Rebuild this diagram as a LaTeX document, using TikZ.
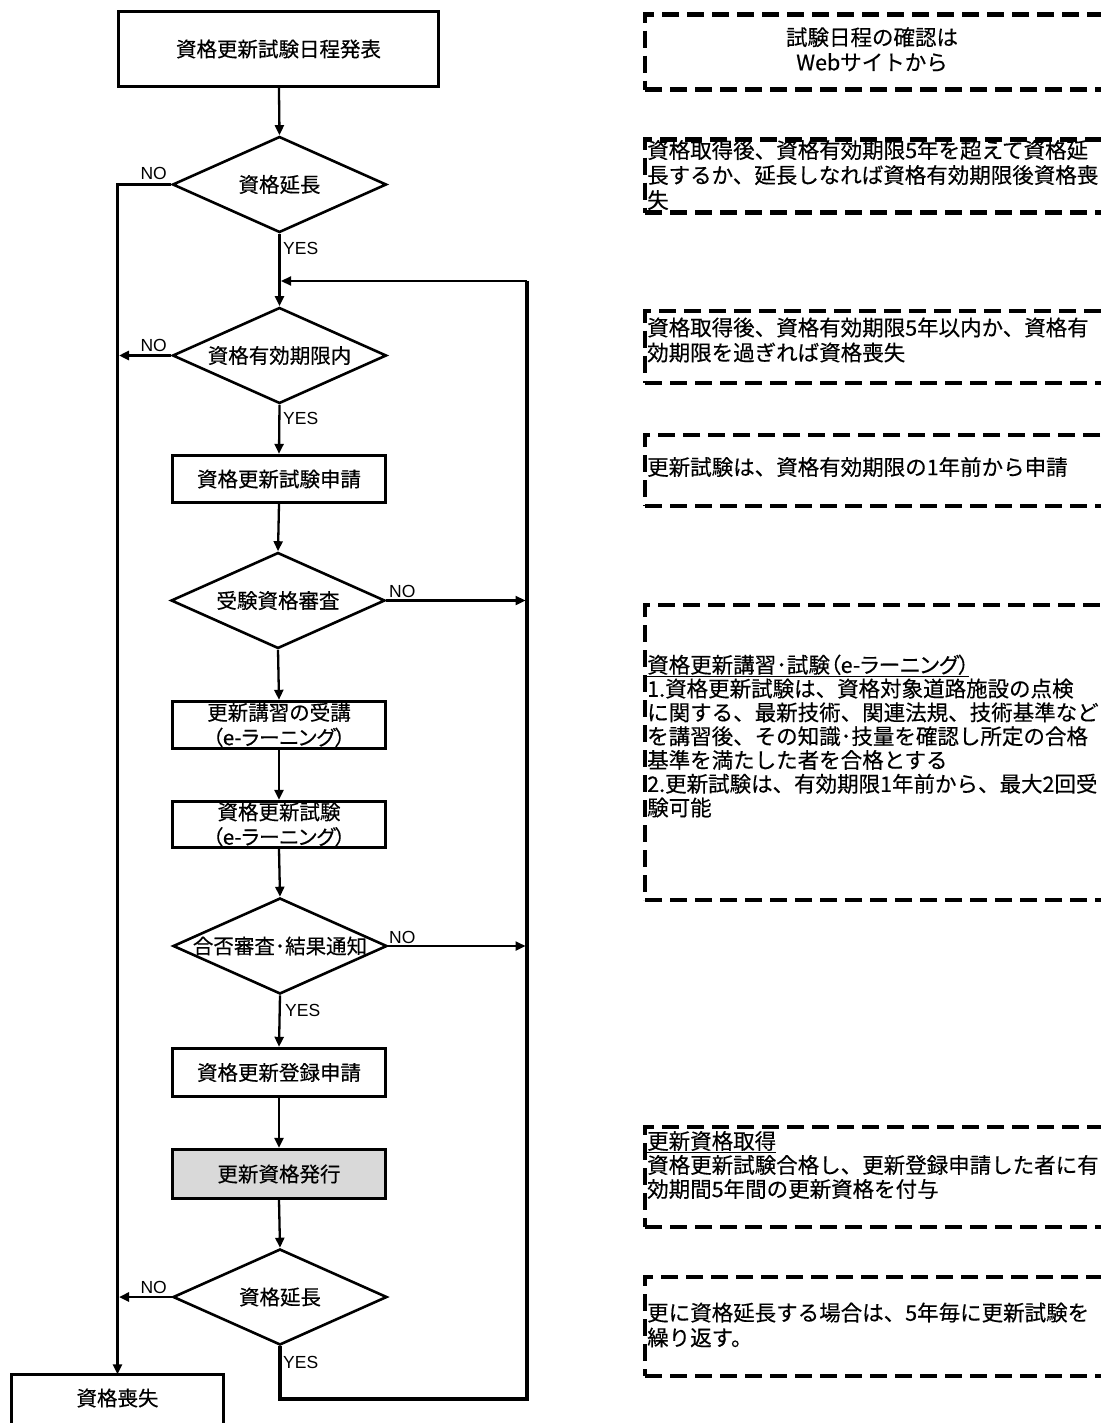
\documentclass[tikz,border=0pt]{standalone}
\usepackage{fontspec}
\setmainfont{Noto Sans CJK JP}[FakeBold=0.35]
\newfontfamily\paltfont{Noto Sans CJK JP}[RawFeature=+palt,FakeBold=0.35]
\newfontfamily\latinfont{Liberation Sans}
\usetikzlibrary{shapes.geometric,arrows.meta,calc}
\definecolor{fillgray}{HTML}{D9D9D9}
\newcommand{\elearn}{{\paltfont （e-ラーニング）}}
\begin{document}
\begin{tikzpicture}[x=1pt,y=-1pt,
  proc/.style={draw, line width=3.4pt, minimum width=213pt, minimum height=47pt, inner sep=0pt,
    font=\fontsize{20.5}{25}\selectfont, align=center},
  dec/.style={draw, diamond, line width=2.6pt, minimum width=214pt, minimum height=96pt, inner sep=0pt,
    font=\fontsize{20.5}{25}\selectfont},
  conn/.style={line width=2.3pt, -{Triangle[length=10pt,width=9pt]}},
  trunk/.style={line width=3.4pt},
  yn/.style={font=\latinfont\fontsize{17.5}{20}\selectfont, inner sep=0pt},
  note/.style={draw, dash pattern=on 17pt off 8pt, line width=4.2pt, anchor=north west, inner sep=0pt, minimum width=467pt},
  notetext/.style={font=\fontsize{21.5}{25}\selectfont, align=left, anchor=west, inner sep=0pt},
]
\useasboundingbox (0,0) rectangle (1100,1423);

% ---------- flowchart nodes ----------
\node[proc, minimum width=320pt, minimum height=75pt] (start) at (278.5,49) {資格更新試験日程発表};
\node[dec] (d1) at (279.5,184.5) {\makebox[0pt]{資格延長}};
\node[dec] (d2) at (279.5,355.5) {\makebox[0pt]{資格有効期限内}};
\node[proc] (p1) at (279,479) {資格更新試験申請};
\node[dec] (d3) at (278,600.5) {\makebox[0pt]{受験資格審査}};
\node[proc] (p2) at (279,725) {更新講習の受講\\\elearn};
\node[proc, minimum height=46pt] (p3) at (279,824.5) {資格更新試験\\\elearn};
\node[dec] (d4) at (280,946) {\makebox[0pt]{合否審査･結果通知}};
\node[proc, minimum height=48pt] (p4) at (279,1072.5) {資格更新登録申請};
\node[proc, fill=fillgray, minimum height=49pt] (p5) at (279,1174) {更新資格発行};
\node[dec] (d5) at (280,1297) {\makebox[0pt]{資格延長}};
\node[inner sep=0pt, minimum width=212pt, minimum height=47pt, font=\fontsize{20.5}{25}\selectfont] (lost) at (117.5,1398) {資格喪失};
\draw[line width=3.4pt] ($(lost.south west)+(0,30)$) -- (lost.north west) -- (lost.north east) -- ($(lost.south east)+(0,30)$);

% ---------- helper coordinates ----------
\coordinate (trunkx) at (119,0);
\coordinate (loopx) at (527,0);
\coordinate (rightx) at (525.5,0);
\coordinate (looptop) at (281,281);
\coordinate (loopbot) at (0,1399);

% ---------- connectors ----------
\draw[conn] (start) -- (d1.north);
\draw[conn] (d1.south) -- (d2.north);
\draw[conn] (d2.south) -- (p1.north);
\draw[conn] (p1.south) -- (d3.north);
\draw[conn] (d3.south) -- (p2.north);
\draw[conn] (p2.south) -- (p3.north);
\draw[conn] (p3.south) -- (d4.north);
\draw[conn] (d4.south) -- (p4.north);
\draw[conn] (p4.south) -- (p5.north);
\draw[conn] (p5.south) -- (d5.north);

% NO trunk on the left
\draw[trunk, -{Triangle[length=10pt,width=9pt]}] (d1.west) -| (lost.north);
\draw[conn, line width=2.8pt] (d2.west) -- (d2.west -| trunkx);
\draw[conn, line width=2.8pt] (d5.west) -- (d5.west -| trunkx);

% NO to the right loop
\draw[conn] (d3.east) -- (d3.east -| rightx);
\draw[conn] (d4.east) -- (d4.east -| rightx);

% YES loop back
\draw[trunk] (d5.south) -- (d5.south |- loopbot) -| (loopx |- looptop);
\draw[conn] (loopx |- looptop) -- (looptop);

% ---------- YES / NO labels ----------
\node[yn, anchor=east] (n1) at (167,173) {NO};
\node[yn, anchor=west] (y1) at (283,248) {YES};
\node[yn, anchor=east] (n2) at (167,345) {NO};
\node[yn, anchor=west] (y2) at (283,418) {YES};
\node[yn, anchor=west] (n3) at (389,591) {NO};
\node[yn, anchor=west] (n4) at (389,937) {NO};
\node[yn, anchor=west] (y4) at (285,1010) {YES};
\node[yn, anchor=east] (n5) at (167,1287) {NO};
\node[yn, anchor=west] (y5) at (283,1362) {YES};

% ---------- notes on the right ----------
\node[note, minimum height=75pt] (nA) at (643,12.5) {};
\node[notetext, anchor=center, align=center] (tA) at (872,49.5) {試験日程の確認は\\Webサイトから};

\node[note, minimum height=73pt] (nB) at (643,137.5) {};
\node[notetext] (tB) at (647,175) {資格取得後、資格有効期限5年を超えて資格延\\長するか、延長しなれば資格有効期限後資格喪\\失};

\node[note, minimum height=71.5pt] (nC) at (643,309) {};
\node[notetext] (tC) at (647,340) {資格取得後、資格有効期限5年以内か、資格有\\効期限を過ぎれば資格喪失};

\node[note, minimum height=71pt] (nD) at (643,433) {};
\node[notetext] (tD) at (647,467) {更新試験は、資格有効期限の1年前から申請};

\node[note, minimum height=295.5pt] (nE) at (643,602.5) {};
\node[notetext, font=\fontsize{21.5}{23.8}\selectfont] (tE) at (647,736) {\underline{資格更新講習･試験{\paltfont （e-ラーニング）}}\\1.資格更新試験は、資格対象道路施設の点検\\に関する、最新技術、関連法規、技術基準など\\を講習後、その知識･技量を確認し所定の合格\\基準を満たした者を合格とする\\2.更新試験は、有効期限1年前から、最大2回受\\験可能};

\node[note, minimum height=100pt] (nF) at (643,1125) {};
\node[notetext, font=\fontsize{21.5}{24}\selectfont] (tF) at (647,1165) {\underline{更新資格取得}\\資格更新試験合格し、更新登録申請した者に有\\効期間5年間の更新資格を付与};

\node[note, minimum height=99pt] (nG) at (643,1275) {};
\node[notetext] (tG) at (647,1325) {更に資格延長する場合は、5年毎に更新試験を\\繰り返す。};
\end{tikzpicture}
\end{document}
